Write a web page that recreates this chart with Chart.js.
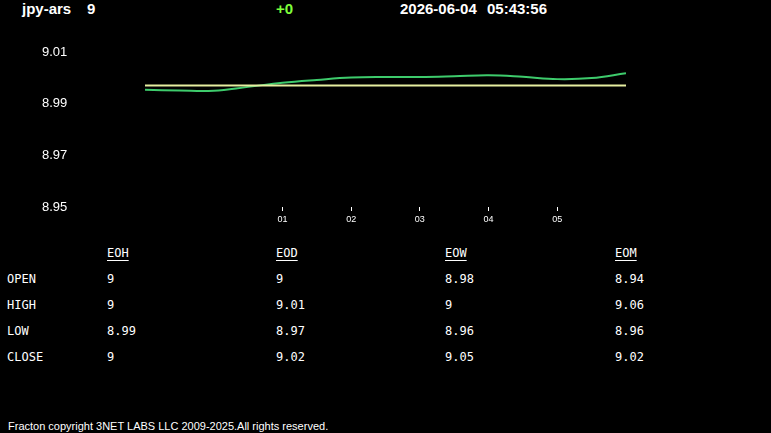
<!DOCTYPE html>
<html>
<head>
<meta charset="utf-8">
<script src="https://cdn.jsdelivr.net/npm/chart.js@4.4.1/dist/chart.umd.min.js"></script>
<style>
  html, body { margin:0; padding:0; background:#000; width:771px; height:433px; overflow:hidden; }
  .hdr { position:absolute; top:0; font-family:'Liberation Sans Narrow','Arial Narrow','Liberation Sans',Arial,sans-serif; font-weight:bold; font-size:15px; color:#fff; line-height:18px; }
  #chartwrap { position:absolute; left:0; top:30px; width:771px; height:200px; }
  .tbl { position:absolute; font-family:'DejaVu Sans Mono','Liberation Mono',monospace; font-size:12px; color:#fff; line-height:14px; white-space:pre; }
  .u { text-decoration:underline; text-underline-offset:3px; }
  #foot { position:absolute; left:8px; top:420px; font-family:'Liberation Sans',Arial,sans-serif; font-size:11px; color:#fff; }
</style>
</head>
<body>
<div class="hdr" style="left:22px">jpy-ars</div>
<div class="hdr" style="left:87px">9</div>
<div class="hdr" style="left:276px;color:#7fff3a">+0</div>
<div class="hdr" style="left:400px">2026-06-04</div>
<div class="hdr" style="left:487px">05:43:56</div>
<div id="chartwrap"><canvas id="c" width="771" height="200"></canvas></div>
<div id="table"></div>
<div id="foot">Fracton copyright 3NET LABS LLC 2009-2025.All rights reserved.</div>
<script>
// ---- data ----
const hours = [-1, -0.5, 0, 0.5, 1, 1.5, 2, 2.5, 3, 3.5, 4, 4.5, 5, 5.5, 6];
const priceSeries = [8.9954, 8.9951, 8.9950, 8.9965, 8.9981, 8.9992, 9.0001, 9.0003, 9.0003, 9.0006, 9.0010, 9.0004, 8.9995, 8.9999, 9.0018];
const refLevel = [8.9970, 8.9970];
const refHours = [-1, 6];
const yTicks = [8.95, 8.97, 8.99, 9.01];
const xTicks = [1, 2, 3, 4, 5];

const tableCols = ['EOH', 'EOD', 'EOW', 'EOM'];
const tableRows = ['OPEN', 'HIGH', 'LOW', 'CLOSE'];
const eohVals = ['9', '9', '8.99', '9'];
const eodVals = ['9', '9.01', '8.97', '9.02'];
const eowVals = ['8.98', '9', '8.96', '9.05'];
const eomVals = ['8.94', '9.06', '8.96', '9.02'];

// ---- table ----
const tbl = document.getElementById('table');
const colX = [107, 276, 445, 615];
const rowY = [272, 298, 324, 350];
const colVals = [eohVals, eodVals, eowVals, eomVals];
function addText(txt, x, y, cls) {
  const d = document.createElement('div');
  d.className = 'tbl';
  d.style.left = x + 'px';
  d.style.top = y + 'px';
  if (cls) d.innerHTML = '<span class="' + cls + '">' + txt + '</span>';
  else d.textContent = txt;
  tbl.appendChild(d);
}
tableCols.forEach((c, i) => addText(c, colX[i], 246, 'u'));
tableRows.forEach((r, j) => {
  addText(r, 7, rowY[j]);
  colVals.forEach((vals, i) => addText(vals[j], colX[i], rowY[j]));
});

// ---- chart ----
new Chart(document.getElementById('c'), {
  type: 'line',
  data: {
    datasets: [
      {
        data: refHours.map((h, i) => ({ x: h, y: refLevel[i] })),
        borderColor: '#e6eea0',
        borderWidth: 2,
        pointRadius: 0,
        tension: 0
      },
      {
        data: hours.map((h, i) => ({ x: h, y: priceSeries[i] })),
        borderColor: '#3ecb6c',
        borderWidth: 2,
        pointRadius: 0,
        tension: 0.4
      }
    ]
  },
  options: {
    responsive: false,
    animation: false,
    layout: { padding: { left: 42, right: 145, top: 22, bottom: 0 } },
    plugins: { legend: { display: false }, tooltip: { enabled: false } },
    scales: {
      x: {
        type: 'linear',
        min: -1,
        max: 6,
        afterBuildTicks: s => { s.ticks = xTicks.map(v => ({ value: v })); },
        afterFit: s => { s.height = 23; },
        grid: { display: true, drawOnChartArea: false, drawTicks: true, tickLength: 4, color: '#ffffff', lineWidth: 1 },
        border: { display: false },
        ticks: {
          color: '#ffffff',
          padding: 3,
          font: { family: "'Liberation Sans', Arial, sans-serif", size: 9 },
          maxRotation: 0,
          callback: v => String(v).padStart(2, '0')
        }
      },
      y: {
        type: 'linear',
        min: 8.95,
        max: 9.01,
        afterBuildTicks: s => { s.ticks = yTicks.map(v => ({ value: v })); },
        afterFit: s => { s.width = 103; },
        grid: { display: false, drawTicks: false },
        border: { display: false },
        ticks: {
          color: '#ffffff',
          padding: 0,
          crossAlign: 'far',
          font: { family: "'Liberation Sans', Arial, sans-serif", size: 13 },
          callback: v => v.toFixed(2)
        }
      }
    }
  }
});
</script>
</body>
</html>
